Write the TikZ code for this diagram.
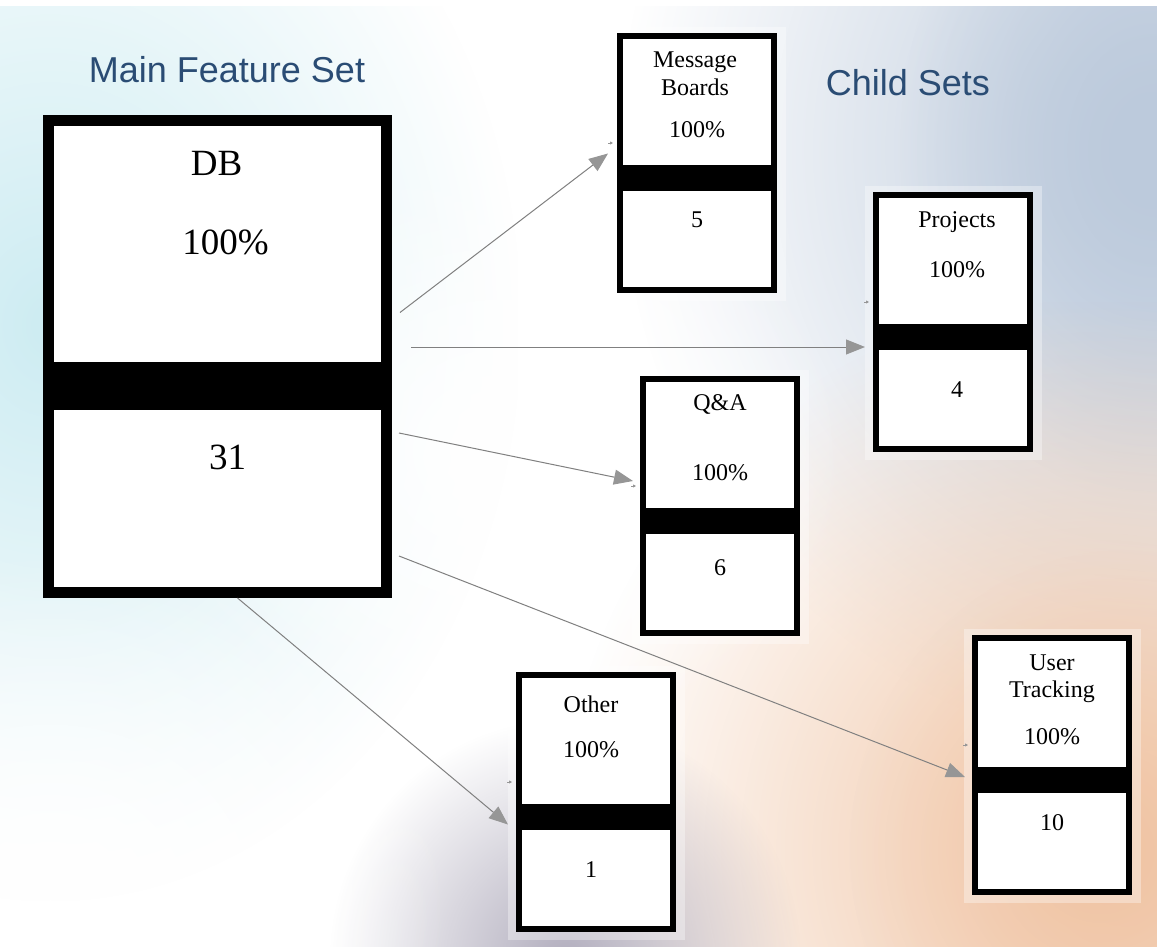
\documentclass[tikz,border=0pt]{standalone}
\usepackage{fontspec}
\setmainfont{Liberation Serif}
\newfontfamily\headfont{Liberation Sans}
\usetikzlibrary{calc,arrows.meta,fadings}

\definecolor{headblue}{RGB}{42,76,116}
\definecolor{linkgray}{RGB}{128,128,128}
\definecolor{tipgray}{RGB}{150,150,150}
\definecolor{bgcyan}{RGB}{205,236,242}
\definecolor{bgsteel}{RGB}{188,202,220}
\definecolor{bgpeach}{RGB}{240,195,162}
\definecolor{bgmauve}{RGB}{178,174,190}

\tikzfading[name=softglow, inner color=transparent!0, outer color=transparent!100]

% child set box: name, left x, top y (pale halo, frame, black band)
\newcommand{\childbox}[3]{
  \fill[white, opacity=0.35] (#2-8,#3-6) rectangle (#2+169,#3+268);
  \node[childframe] (#1) at (#2+80,#3+130) {};
  \fill (#2,#3+132) rectangle (#2+160,#3+158);
}
% text line inside a child box: node name, box, x offset, y offset, text
\newcommand{\childtext}[5]{\node[childlabel] (#1) at ($(#2.north)+(#3,#4)$) {#5};}

\begin{document}
\begin{tikzpicture}[x=1pt, y=-1pt,
    mainframe/.style={draw, fill=white, line width=11pt, inner sep=0pt,
      minimum width=338pt, minimum height=472pt},
    childframe/.style={draw, fill=white, line width=6pt, inner sep=0pt,
      minimum width=154pt, minimum height=254pt},
    mainlabel/.style={inner sep=0pt, text height=25pt, text depth=0pt,
      font=\fontsize{37}{40}\selectfont},
    childlabel/.style={inner sep=0pt, text height=15pt, text depth=0pt,
      font=\fontsize{24}{26}\selectfont},
    heading/.style={inner sep=0pt, text height=26pt, text depth=0pt,
      text=headblue, font=\headfont\fontsize{36}{40}\selectfont},
    link/.style={draw=linkgray, line width=1pt,
      -{Triangle[length=19pt,width=15pt,color=tipgray]}},
    stub/.style={draw=tipgray, line width=0.8pt,
      -{Triangle[length=3pt,width=3pt]}}]
  \useasboundingbox (0,0) rectangle (1157,947);

  % background
  \fill[white] (0,0) rectangle (1157,947);
  \begin{scope}
    \clip (0,7) rectangle (1157,947);
    \fill[bgcyan, path fading=softglow] (-420,-250) rectangle (520,900);
    \fill[bgsteel, path fading=softglow] (620,-450) rectangle (1700,750);
    \fill[bgsteel, path fading=softglow] (900,-200) rectangle (1400,500);
    \fill[bgpeach, path fading=softglow] (560,300) rectangle (1640,1400);
    \fill[bgpeach, opacity=0.5, path fading=softglow] (850,550) rectangle (1400,1150);
    \fill[bgmauve, path fading=softglow] (330,720) rectangle (800,1200);
    \fill[white, path fading=softglow] (150,150) rectangle (850,750);
    \fill[white, path fading=softglow] (-350,550) rectangle (450,1250);
  \end{scope}

  % headings
  \node[heading] (mainhead) at (227,70) {Main Feature Set};
  \node[heading] (childhead) at (908,83) {Child Sets};

  % main feature set
  \node[mainframe] (db) at (217.5,356.5) {};
  \fill ($(db.north west)+(0,247)$) rectangle ($(db.north east)+(0,295)$);
  \node[mainlabel] (dbname) at ($(db.north)+(-1,48)$) {DB};
  \node[mainlabel] (dbpct) at ($(db.north)+(8,127)$) {100\%};
  \node[mainlabel] (dbcount) at ($(db.north)+(10,342)$) {31};

  % child sets
  \childbox{mb}{617}{33}
  \childtext{mbname}{mb}{-2}{27}{Message}
  \childtext{mbname2}{mb}{-2}{55}{Boards}
  \childtext{mbpct}{mb}{0}{97}{100\%}
  \childtext{mbcount}{mb}{0}{187}{5}

  \childbox{pj}{873}{192}
  \childtext{pjname}{pj}{4}{28}{Projects}
  \childtext{pjpct}{pj}{4}{78}{100\%}
  \childtext{pjcount}{pj}{4}{198}{4}

  \childbox{qa}{640}{376}
  \childtext{qaname}{qa}{0}{27}{Q\&A}
  \childtext{qapct}{qa}{0}{97}{100\%}
  \childtext{qacount}{qa}{0}{192}{6}

  \childbox{ot}{516}{672}
  \childtext{otname}{ot}{-5}{33}{Other}
  \childtext{otpct}{ot}{-5}{78}{100\%}
  \childtext{otcount}{ot}{-5}{198}{1}

  \childbox{ut}{972}{635}
  \childtext{utname}{ut}{0}{28}{User}
  \childtext{utname2}{ut}{0}{55}{Tracking}
  \childtext{utpct}{ut}{0}{102}{100\%}
  \childtext{utcount}{ut}{0}{188}{10}

  % small inlet marks
  \foreach \b in {mb,pj,qa,ot,ut}
    \draw[stub] ($(\b.west)+(-9,-20)$) -- ++(5,0);

  % links from the main set
  \draw[link] ($(db.east)+(8,-44)$) -- ($(mb.west)+(-9,-9.5)$);
  \draw[link] ($(db.east)+(19,-9.5)$) -- ($(pj.west)+(-8,25)$);
  \draw[link] ($(db.east)+(7,76.5)$) -- ($(qa.west)+(-7,-25)$);
  \draw[link] ($(db.east)+(7,199.5)$) -- ($(ut.west)+(-7,12)$);
  \draw[link] ($(db.south)+(20,0)$) -- ($(ot.west)+(-8,22.5)$);
\end{tikzpicture}
\end{document}
